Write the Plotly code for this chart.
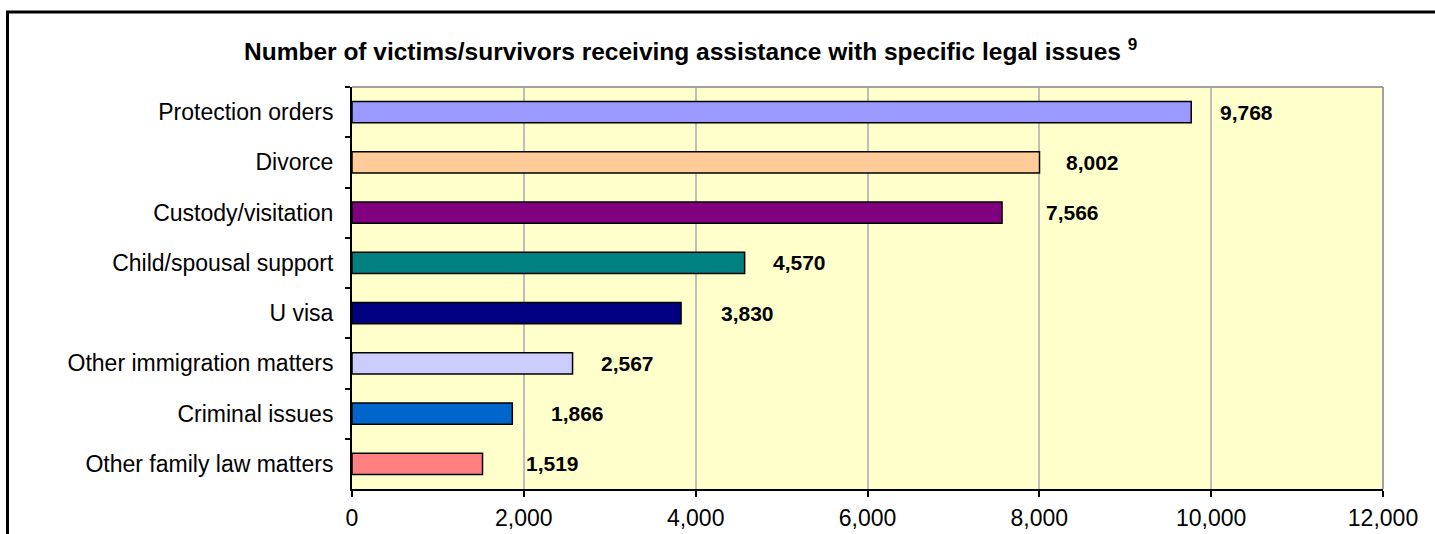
import plotly.graph_objects as go

categories = ["Protection orders", "Divorce", "Custody/visitation", "Child/spousal support",
              "U visa", "Other immigration matters", "Criminal issues", "Other family law matters"]
values = [9768, 8002, 7566, 4570, 3830, 2567, 1866, 1519]
bar_colors = ["#9999FF", "#FFCC99", "#800080", "#008080", "#000080", "#CCCCFF", "#0066CC", "#FF8080"]
x_ticks = [0, 2000, 4000, 6000, 8000, 10000, 12000]
x_tick_labels = ["0", "2,000", "4,000", "6,000", "8,000", "10,000", "12,000"]
label_shift = [55, 53, 70, 55, 66, 55, 65, 70]  # pixel offsets of value labels past bar ends

W, H = 1435, 534
# plot area in pixels: left 352, right 1383, top 87, bottom 489
ML, MT = 352, 87
MR = W - 1383
MB = H - 489
pw, ph = W - ML - MR, H - MT - MB

def px_x(p):  # pixel -> paper
    return (p - ML) / pw

def px_y(p):
    return (H - MB - p) / ph

FONT = "Arial, Liberation Sans, sans-serif"

fig = go.Figure()
fig.add_trace(go.Bar(
    y=categories, x=values, orientation="h",
    marker=dict(color=bar_colors, line=dict(color="black", width=1.5)),
    width=0.42, hoverinfo="skip",
))

for c, v, s in zip(categories, values, label_shift):
    fig.add_annotation(x=v, y=c, xref="x", yref="y", text=f"<b>{v:,}</b>",
                       showarrow=False, xanchor="center", yanchor="middle", xshift=s,
                       font=dict(family=FONT, size=21, color="black"))

fig.add_annotation(x=px_x(690), y=px_y(49), xref="paper", yref="paper",
                   text="<b>Number of victims/survivors receiving assistance with specific legal issues <sup>9</sup></b>",
                   showarrow=False, xanchor="center", yanchor="middle",
                   font=dict(family=FONT, size=24.5, color="black"))

# plot-area frame (top and right) in gray
fig.add_shape(type="line", xref="paper", yref="paper", x0=0, x1=1, y0=1, y1=1,
              line=dict(color="#A0A0A0", width=2))
fig.add_shape(type="line", xref="paper", yref="paper", x0=1, x1=1, y0=0, y1=1,
              line=dict(color="#A0A0A0", width=2))
# outer chart border (left and top edges visible)
fig.add_shape(type="line", xref="paper", yref="paper",
              x0=px_x(7.5), x1=px_x(7.5), y0=px_y(540), y1=px_y(12),
              line=dict(color="black", width=3))
fig.add_shape(type="line", xref="paper", yref="paper",
              x0=px_x(6), x1=px_x(1440), y0=px_y(12), y1=px_y(12),
              line=dict(color="black", width=3))

fig.update_layout(
    width=W, height=H,
    margin=dict(l=ML, r=MR, t=MT, b=MB, pad=0, autoexpand=False),
    paper_bgcolor="white", plot_bgcolor="#FFFFCC",
    showlegend=False,
    font=dict(family=FONT, color="black"),
    xaxis=dict(range=[0, 12000], tickvals=x_ticks, ticktext=x_tick_labels,
               showgrid=True, gridcolor="#BEBEBE", gridwidth=1.5,
               showline=True, linecolor="black", linewidth=2,
               ticks="outside", ticklen=6, tickwidth=1.5, tickcolor="black",
               tickfont=dict(family=FONT, size=23, color="black"),
               ticklabelstandoff=1, zeroline=False, fixedrange=True,
               automargin=False),
    yaxis=dict(autorange="reversed", showgrid=False,
               showline=True, linecolor="black", linewidth=2,
               ticks="outside", ticklen=5, tickwidth=1.5, tickcolor="black",
               tickson="boundaries",
               tickfont=dict(family=FONT, size=23, color="black"),
               ticklabelstandoff=12, fixedrange=True, automargin=False),
    bargap=0.58,
)

fig.write_html("out.html",
               config={"displayModeBar": False},
               post_script="document.body.style.margin='0';document.body.style.overflow='hidden';")
